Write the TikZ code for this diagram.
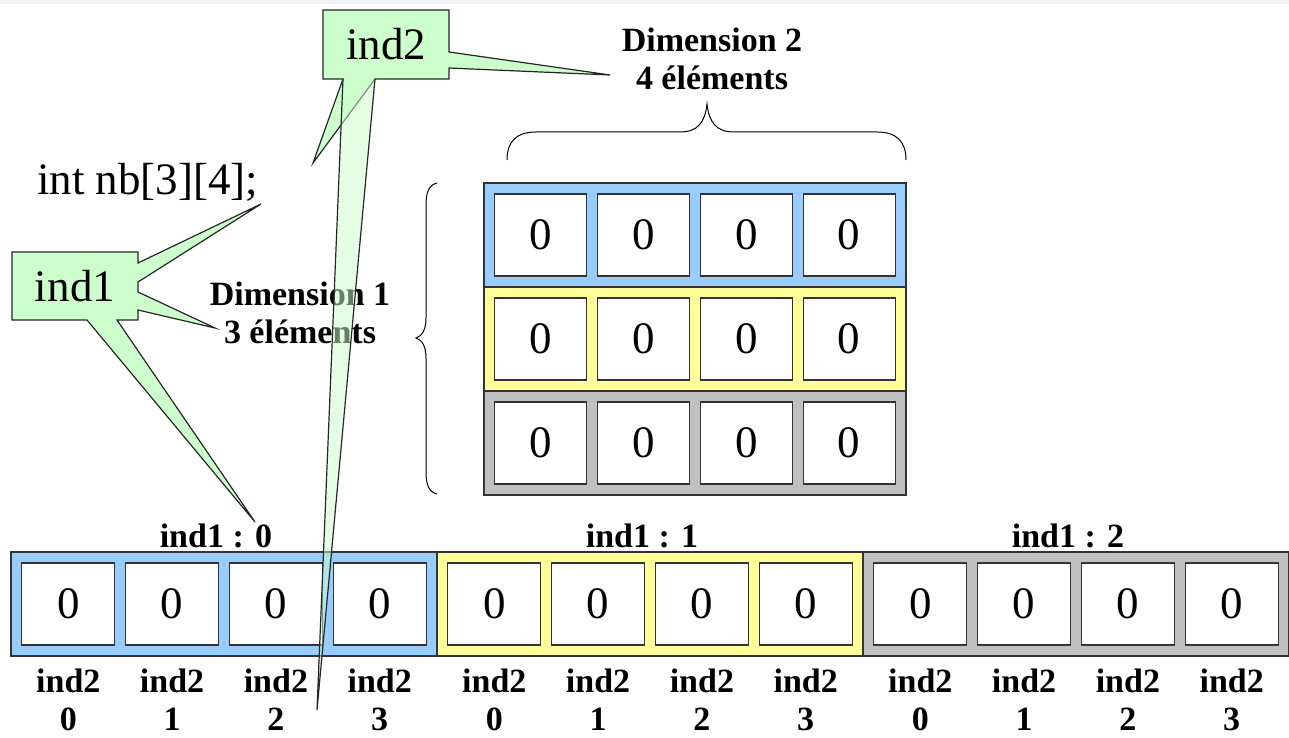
\documentclass[tikz,border=0pt]{standalone}
\usepackage{fontspec}
\setmainfont{Liberation Serif}
\usepackage{xcolor}
\usepackage{tikz}
\usetikzlibrary{calc}
\definecolor{callgreen}{HTML}{CCFFCC}
\definecolor{rowblue}{HTML}{99CCFF}
\definecolor{rowyellow}{HTML}{FFFF99}
\definecolor{rowgray}{HTML}{C0C0C0}
\definecolor{bandgray}{HTML}{F2F2F2}
\tikzset{
  cellbox/.style={draw=black!80,line width=1.2pt,fill=white,minimum width=93pt,minimum height=82pt,inner sep=0pt,font=\fontsize{45}{48}\selectfont},
  rowbox/.style={draw=black!80,line width=1.2pt},
  boldlbl/.style={font=\fontsize{34}{38}\selectfont\bfseries,align=center,inner sep=0pt},
  biglbl/.style={font=\fontsize{45}{48}\selectfont,inner sep=0pt},
  callout/.style={draw=black!85,line width=1.2pt,fill=callgreen},
  brace/.style={line width=1pt}
}
\begin{document}
\begin{tikzpicture}[x=1pt,y=-1pt]
			\useasboundingbox (0,0) rectangle (1289,738);
			\fill[bandgray] (0,0) rectangle (1289,4);
			\foreach \r/\col in {0/rowblue,1/rowyellow,2/rowgray}{
				\draw[rowbox,fill=\col] (484,183+104*\r) rectangle (906,287+104*\r);
				\foreach \k in {0,...,3}
					\node[cellbox,minimum width=92pt] (m\r\k) at (540.8+102.8*\k,235+104*\r) {0};
			}
			\foreach \s/\col in {0/rowblue,1/rowyellow,2/rowgray}{
				\draw[rowbox,fill=\col] (11+426*\s,552) rectangle (437+426*\s,656);
				\foreach \k in {0,...,3}{
					\node[cellbox] (v\s\k) at (68.3+426*\s+103.8*\k,604) {0};
					\node[boldlbl] (l\s\k) at (68.3+426*\s+103.8*\k,700) {ind2\\\k};
				}
				\node[boldlbl,anchor=base] (h\s) at (216+426*\s,547) {ind1 : \s};
			}
			\draw[brace] (507,160) .. controls (507,142) and (516,132) .. (536,132) -- (680,132)
				.. controls (698,132) and (705,122) .. (707,104)
				.. controls (709,122) and (716,132) .. (734,132) -- (877,132)
				.. controls (897,132) and (906,142) .. (906,160);
			\draw[brace] (437,183) .. controls (429,185) and (426,192) .. (426,205) -- (426,318)
				.. controls (426,330) and (422,336) .. (416,338)
				.. controls (422,340) and (426,346) .. (426,358) -- (426,472)
				.. controls (426,485) and (429,492) .. (437,494);
			\node[boldlbl] (dim2) at (712,59) {Dimension 2\\4 éléments};
			\node[boldlbl] (dim1) at (300,313) {Dimension 1\\3 éléments};
			\node[biglbl,anchor=base west] (decl) at (37,194) {int nb[3][4];};
			\coordinate (tipa) at (261,204);
			\coordinate (tipb) at (215,328);
			\coordinate (tipc) at (255,522);
			\coordinate (tipd) at (610,75);
			\coordinate (tipe) at (313,163);
			\coordinate (tipf) at (317,710);
			\draw[callout] (12,252) -- (138,252) -- (138,263) -- (tipa) -- (138,282) -- (138,292)
				-- (tipb) -- (138,310) -- (138,320) -- (117,320) -- (tipc) -- (87,320) -- (12,320) -- cycle;
			\node[biglbl] (ind1) at (75,286) {ind1};
			\draw[callout] (323,10) -- (449,10) -- (449,52) -- (tipd) -- (449,68) -- (449,79)
				-- (375,79) -- (tipe) -- (343,79) -- (323,79) -- cycle;
			\node[biglbl] (ind2) at (386,44.5) {ind2};
			\draw[callout,fill opacity=0.5] (343,79) -- (tipf) -- (375,79);
		\end{tikzpicture}
\end{document}
